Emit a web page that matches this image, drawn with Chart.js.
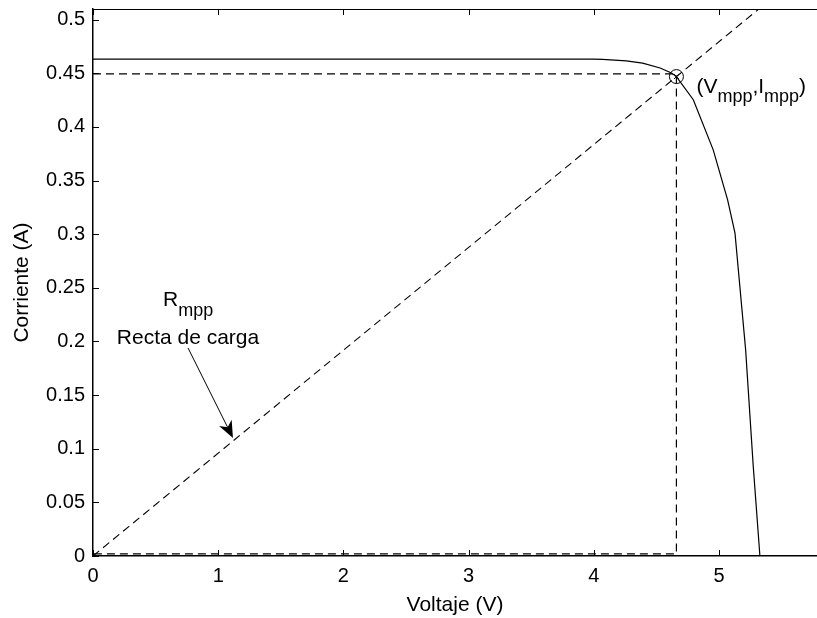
<!DOCTYPE html>
<html><head><meta charset="utf-8">
<script src="https://cdn.jsdelivr.net/npm/chart.js@4"></script>
<style>html,body{margin:0;padding:0;background:#fff}#wrap{width:817px;height:618px;position:relative}</style>
</head><body><div id="wrap"><canvas id="c"></canvas></div>
<script>
// I-V curve of the panel
const voltage = [0, 1, 2, 3, 4.0, 4.07, 4.26, 4.39, 4.53, 4.62, 4.66, 4.795, 4.954, 5.069, 5.128, 5.213, 5.274, 5.327];
const current = [0.4633, 0.4633, 0.4633, 0.4633, 0.4632, 0.463, 0.4617, 0.4596, 0.455, 0.4503, 0.447, 0.4254, 0.3787, 0.3321, 0.301, 0.1922, 0.0833, 0];
// load line (R_mpp)
const loadLineV = [0, 5.318];
const loadLineI = [0, 0.51];
// maximum power point
const mppV = [4.66];
const mppI = [0.447];
// guide rectangle levels
const guideV = [0, 4.66, 4.66, 0];
const guideI = [0.4496, 0.4496, 0.002, 0.002];
// ticks
const xTicks = [0, 1, 2, 3, 4, 5];
const yTicks = [0, 0.05, 0.1, 0.15, 0.2, 0.25, 0.3, 0.35, 0.4, 0.45, 0.5];
const xRange = [0, 5.783];
const yRange = [0, 0.51];

const FONT = '"Liberation Sans", Arial, Helvetica, sans-serif';
const zip = (a, b) => a.map((v, i) => ({x: v, y: b[i]}));

const overlay = {
  id: 'overlay',
  afterDraw(chart) {
    const {ctx, chartArea: ca, scales: {x, y}} = chart;
    ctx.save();
    ctx.strokeStyle = '#000';
    ctx.fillStyle = '#000';
    ctx.lineWidth = 1;
    // top border
    ctx.beginPath();
    ctx.moveTo(ca.left, Math.round(ca.top) + 0.5);
    ctx.lineTo(ca.right, Math.round(ca.top) + 0.5);
    ctx.stroke();
    // inward ticks
    const tl = 6;
    ctx.beginPath();
    xTicks.forEach(v => {
      const px = Math.round(x.getPixelForValue(v)) + 0.5;
      ctx.moveTo(px, ca.bottom); ctx.lineTo(px, ca.bottom - tl);
      ctx.moveTo(px, ca.top); ctx.lineTo(px, ca.top + tl);
    });
    yTicks.forEach(v => {
      const py = Math.round(y.getPixelForValue(v)) + 0.5;
      ctx.moveTo(ca.left, py); ctx.lineTo(ca.left + tl, py);
    });
    ctx.stroke();

    // arrow to load line
    const x0 = x.getPixelForValue(0.759), y0 = y.getPixelForValue(0.194);
    const x1 = x.getPixelForValue(1.118), y1 = y.getPixelForValue(0.110);
    const ang = Math.atan2(y1 - y0, x1 - x0);
    const hl = 17, hw = 7;
    const bx = x1 - hl * Math.cos(ang), by = y1 - hl * Math.sin(ang);
    const nx = -Math.sin(ang), ny = Math.cos(ang);
    const mx = x1 - hl * 0.7 * Math.cos(ang), my = y1 - hl * 0.7 * Math.sin(ang);
    ctx.beginPath();
    ctx.moveTo(x0, y0); ctx.lineTo(mx, my); ctx.stroke();
    ctx.beginPath();
    ctx.moveTo(x1, y1);
    ctx.lineTo(bx + nx * hw, by + ny * hw);
    ctx.lineTo(mx, my);
    ctx.lineTo(bx - nx * hw, by - ny * hw);
    ctx.closePath();
    ctx.fill();

    // texts with subscripts
    const drawParts = (px, py, parts) => {
      ctx.textBaseline = 'alphabetic';
      ctx.textAlign = 'left';
      let cx = px;
      parts.forEach(([t, sub]) => {
        ctx.font = (sub ? '18px ' : '21px ') + FONT;
        ctx.fillText(t, cx, sub ? py + 9.5 : py);
        cx += ctx.measureText(t).width;
      });
    };
    drawParts(x.getPixelForValue(0.559), y.getPixelForValue(0.2327), [['R', 0], ['mpp', 1]]);
    ctx.font = '21px ' + FONT;
    ctx.textBaseline = 'alphabetic';
    ctx.fillText('Recta de carga', x.getPixelForValue(0.19), y.getPixelForValue(0.198));
    const mx0 = x.getPixelForValue(mppV[0]) + 20, my0 = y.getPixelForValue(mppI[0]) + 16;
    drawParts(mx0, my0, [['(V', 0], ['mpp', 1], [',I', 0], ['mpp', 1], [')', 0]]);
    ctx.restore();
  }
};

new Chart(document.getElementById('c'), {
  type: 'scatter',
  data: {
    datasets: [
      {data: zip(voltage, current), showLine: true, borderColor: '#000', borderWidth: 1.2, pointRadius: 0, tension: 0},
      {data: zip(loadLineV, loadLineI), showLine: true, borderColor: '#000', borderWidth: 1.1, borderDash: [8, 5], pointRadius: 0},
      {data: zip(guideV, guideI), showLine: true, borderColor: '#000', borderWidth: 1.2, borderDash: [8, 5], pointRadius: 0},
      {data: zip(mppV, mppI), showLine: false, pointStyle: 'circle', pointRadius: 7, borderColor: '#000', borderWidth: 1, backgroundColor: 'rgba(0,0,0,0)'},
      {data: zip(mppV, mppI), showLine: false, pointStyle: 'crossRot', pointRadius: 3.5, borderColor: '#000', borderWidth: 1}
    ]
  },
  options: {
    responsive: true,
    maintainAspectRatio: false,
    animation: false,
    events: [],
    layout: {autoPadding: false, padding: {top: 9, right: 0, left: 0, bottom: 0}},
    plugins: {legend: {display: false}, tooltip: {enabled: false}},
    scales: {
      x: {
        type: 'linear', min: xRange[0], max: xRange[1],
        afterBuildTicks: s => { s.ticks = xTicks.map(v => ({value: v})); },
        afterFit: s => { s.height = 62; s.paddingLeft = 0; s.paddingRight = 0; },
        grid: {display: false, drawTicks: false},
        border: {display: true, color: '#000', width: 1.5},
        ticks: {color: '#000', padding: 8, font: {family: FONT, size: 20}, callback: v => String(v)},
        title: {display: true, text: 'Voltaje (V)', color: '#000', font: {family: FONT, size: 21}, padding: {top: 0, bottom: 0}}
      },
      y: {
        type: 'linear', min: yRange[0], max: yRange[1],
        afterBuildTicks: s => { s.ticks = yTicks.map(v => ({value: v})); },
        afterFit: s => { s.width = 93; s.paddingTop = 0; s.paddingBottom = 0; },
        grid: {display: false, drawTicks: false},
        border: {display: true, color: '#000', width: 1.5},
        ticks: {color: '#000', padding: 8, font: {family: FONT, size: 20}, callback: v => String(v)},
        title: {display: true, text: 'Corriente (A)', color: '#000', font: {family: FONT, size: 21}, padding: {top: 10, bottom: 0}}
      }
    }
  },
  plugins: [overlay]
});
</script></body></html>
